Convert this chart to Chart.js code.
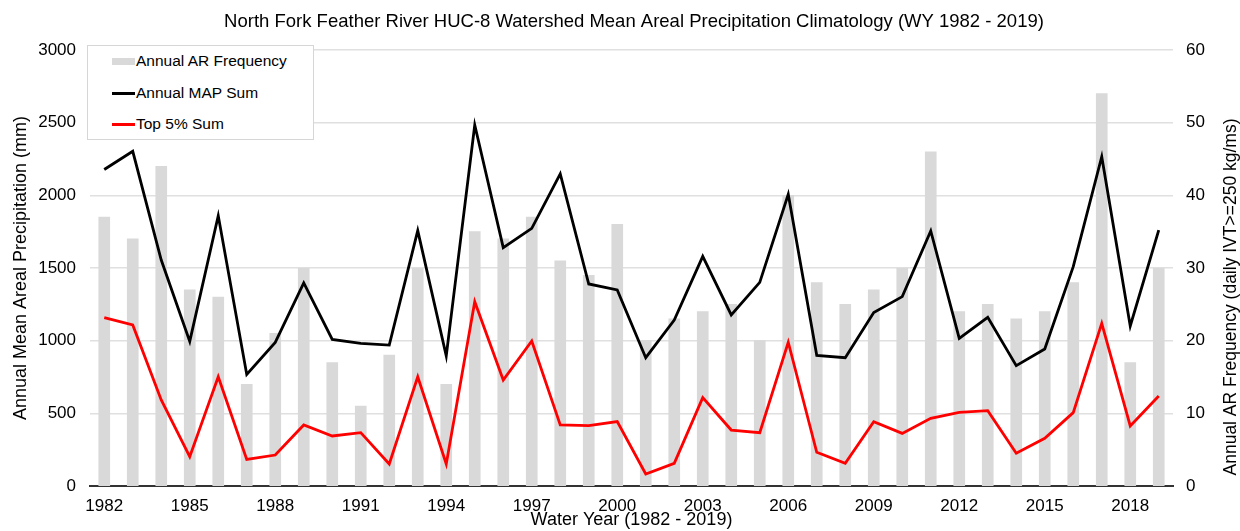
<!DOCTYPE html>
<html>
<head>
<meta charset="utf-8">
<script src="https://cdn.jsdelivr.net/npm/chart.js@4/dist/chart.umd.min.js"></script>
<style>
  html, body { margin: 0; padding: 0; background: #fff; }
  #wrap { position: relative; width: 1240px; height: 531px; }
  #legend {
    position: absolute; left: 87px; top: 45px; width: 225px; height: 93px;
    border: 1.5px solid #d6d6d6; background: #fff;
    font-family: "Liberation Sans", Arial, sans-serif; font-size: 15.5px; color: #000;
  }
  #legend .item { position: absolute; left: 24px; height: 20px; line-height: 20px; white-space: nowrap; }
  #legend .sym { display: inline-block; width: 23px; vertical-align: middle; margin-right: 1px; }
</style>
</head>
<body>
<div id="wrap">
  <canvas id="chart" width="1240" height="531"></canvas>
  <div id="legend"></div>
</div>
<script>
const years = [];
for (let y = 1982; y <= 2019; y++) years.push(String(y));

const arFrequency = [37, 34, 44, 27, 26, 14, 21, 30, 17, 11, 18, 30, 14, 35, 34, 37, 31, 29, 36, 20,
  23, 24, 25, 20, 40, 28, 25, 27, 30, 46, 24, 25, 23, 24, 28, 54, 17, 30];

const mapSum = [2178, 2303, 1555, 995, 1860, 768, 988, 1397, 1009, 982, 970, 1757, 895, 2484,
  1640, 1773, 2147, 1390, 1349, 883, 1142, 1580, 1177, 1401, 2007, 899, 883, 1193, 1303,
  1755, 1016, 1161, 828, 943, 1509, 2266, 1101, 1761];

const top5Sum = [1158, 1108, 592, 202, 752, 183, 213, 420, 344, 367, 151, 752, 151, 1268, 729,
  998, 420, 415, 443, 83, 156, 608, 385, 367, 989, 232, 156, 443, 362, 466, 507, 518, 225,
  328, 505, 1119, 413, 619];

const chartTitle = 'North Fork Feather River HUC-8 Watershed Mean Areal Precipitation Climatology (WY 1982 - 2019)';
const rightTitle = 'Annual AR Frequency (daily IVT>=250 kg/ms)';

const font = "'Liberation Sans', Arial, sans-serif";
Chart.defaults.font.family = font;
Chart.defaults.color = '#000';

const series = [
  { label: 'Annual AR Frequency', type: 'bar', color: '#d9d9d9' },
  { label: 'Annual MAP Sum', type: 'line', color: '#000000' },
  { label: 'Top 5% Sum', type: 'line', color: '#ff0000' }
];

// html legend, sits inside the plot area top-left
const legend = document.getElementById('legend');
series.forEach((s, i) => {
  const item = document.createElement('div');
  item.className = 'item';
  item.style.top = (5 + i * 31.5) + 'px';
  const h = s.type === 'bar' ? 7 : 3;
  item.innerHTML = `<span class="sym" style="height:${h}px;background:${s.color}"></span>${s.label}`;
  legend.appendChild(item);
});

// main title is a bit right of centre, right axis title reads bottom-to-top
const titles = {
  id: 'titles',
  afterDraw(c) {
    const ctx = c.ctx;
    ctx.save();
    ctx.fillStyle = '#000';
    ctx.textAlign = 'center';
    ctx.textBaseline = 'middle';
    ctx.font = '18.5px ' + font;
    ctx.fillText(chartTitle, 634, 22);
    ctx.font = '17.5px ' + font;
    ctx.translate(1231, 297);
    ctx.rotate(-Math.PI / 2);
    ctx.fillText(rightTitle, 0, 0);
    ctx.restore();
  }
};

new Chart(document.getElementById('chart'), {
  data: {
    labels: years,
    datasets: [
      {
        type: 'line', label: series[1].label, data: mapSum, yAxisID: 'y',
        borderColor: series[1].color, borderWidth: 2.8, pointRadius: 0, tension: 0, order: 2
      },
      {
        type: 'line', label: series[2].label, data: top5Sum, yAxisID: 'y',
        borderColor: series[2].color, borderWidth: 2.8, pointRadius: 0, tension: 0, order: 1
      },
      {
        type: 'bar', label: series[0].label, data: arFrequency, yAxisID: 'y1',
        backgroundColor: series[0].color, barThickness: 11, order: 3
      }
    ]
  },
  plugins: [titles],
  options: {
    responsive: false,
    animation: false,
    layout: { padding: { top: 50 } },
    plugins: {
      legend: { display: false },
      tooltip: { enabled: false },
      title: { display: false }
    },
    scales: {
      x: {
        offset: true,
        grid: { display: false },
        border: { color: '#333', width: 2 },
        ticks: {
          autoSkip: false, maxRotation: 0, padding: 2,
          font: { size: 17 },
          callback: function (v, i) { return i % 3 === 0 ? this.getLabelForValue(v) : ''; }
        },
        title: { display: true, text: 'Water Year (1982 - 2019)', font: { size: 18 }, padding: 0 },
        afterFit: s => { s.height = 45; }
      },
      y: {
        position: 'left', min: 0, max: 3000,
        ticks: { stepSize: 500, padding: 14, font: { size: 17 }, callback: v => String(v) },
        grid: { color: '#e0e0e0', lineWidth: 1.5, drawTicks: false },
        border: { display: false },
        title: { display: true, text: 'Annual Mean Areal Precipitation (mm)', font: { size: 18 }, padding: { top: 10, bottom: 0 } },
        afterFit: s => { s.width = 90; }
      },
      y1: {
        position: 'right', min: 0, max: 60,
        ticks: { stepSize: 10, padding: 13, font: { size: 17 } },
        grid: { display: false, drawTicks: false },
        border: { display: false },
        afterFit: s => { s.width = 67; }
      }
    }
  }
});
</script>
</body>
</html>
